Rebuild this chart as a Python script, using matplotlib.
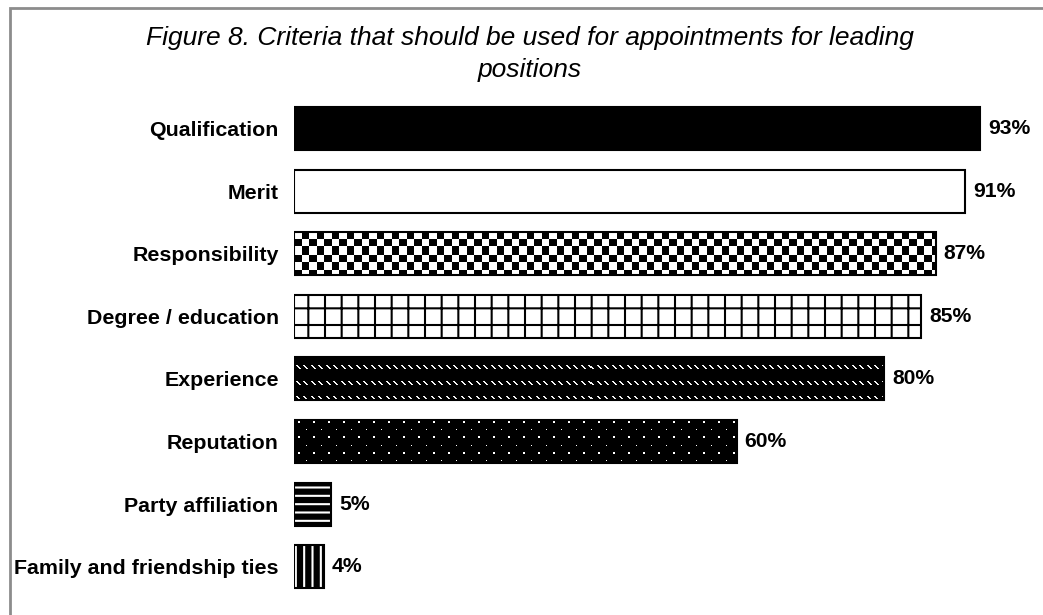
import numpy as np
import matplotlib
matplotlib.use("Agg")
import matplotlib.pyplot as plt
from matplotlib.patches import Rectangle

plt.rcParams["font.family"] = ["Liberation Sans", "DejaVu Sans"]

# Data
categories = ["Qualification", "Merit", "Responsibility", "Degree / education",
              "Experience", "Reputation", "Party affiliation",
              "Family and friendship ties"]
values = [93, 91, 87, 85, 80, 60, 5, 4]
value_labels = ["93%", "91%", "87%", "85%", "80%", "60%", "5%", "4%"]

# Fill per bar: (facecolor, hatch, hatch colour) or a texture name
styles = [
    ("black", None, None),
    ("white", None, None),
    ("checker", None, None),
    ("white", "+", "black"),
    ("diagdash", None, None),
    ("dots", None, None),
    ("black", "--", "white"),
    ("black", "||", "white"),
]

W, H, DPI = 1043, 615, 100
row = 62.6
px_per_pct = 686 / 93
bh = 0.69


def texture(kind, wpx, hpx):
    """Pixel texture (1 = white) used to fill the patterned bars."""
    yy, xx = np.indices((hpx, wpx))
    img = np.zeros((hpx, wpx))
    if kind == "checker":
        img = ((np.floor(xx / 7.5) + np.floor(yy / 7.5)) % 2 == 0).astype(float)
    elif kind == "dots":
        r = np.floor((yy - 2) / 7.5)
        on_row = ((yy - 2) % 7.5) < 1.5
        shift = (r % 2) * 7.5
        on_col = ((xx - 4 - shift) % 15) < 1.5
        img = (on_row & on_col).astype(float)
    elif kind == "diagdash":
        for y0 in (9, 24, 39):
            for k in range(4):
                yr = y0 + k
                if yr >= hpx:
                    continue
                for x0 in np.arange(2, wpx, 7.5):
                    xs = int(x0 + k)
                    img[yr, xs:min(xs + 2, wpx)] = 0.95
    return img


fig = plt.figure(figsize=(W / DPI, H / DPI), dpi=DPI)
fig.patch.set_facecolor("white")

# grey frame (right/bottom edges fall outside the picture)
fig.patches.append(Rectangle((10 / W, -0.1), 1.2, 1 - 8 / H + 0.1,
                             transform=fig.transFigure, fill=False,
                             ec="#8c8c8c", lw=2.0))

top_px = 128.5 - 0.5 * row
bot_px = 128.5 + 7.5 * row
x0_px = 294
ax = fig.add_axes([x0_px / W, 1 - bot_px / H, 100 * px_per_pct / W,
                   (bot_px - top_px) / H])
for s in ax.spines.values():
    s.set_visible(False)
ax.set_xticks([])

plt.rcParams["hatch.linewidth"] = 1.5
ypos = np.arange(len(categories))
for y, v, (fc, hatch, hc) in zip(ypos, values, styles):
    if fc in ("checker", "dots", "diagdash"):
        bar = ax.barh(y, v, height=bh, color="none", edgecolor="black",
                      lw=1.5, zorder=3)[0]
        wpx = int(round(v * px_per_pct))
        hpx = int(round(bh * row))
        im = ax.imshow(texture(fc, wpx, hpx), cmap="gray", vmin=0, vmax=1,
                       aspect="auto", interpolation="nearest",
                       extent=(0, v, y + bh / 2, y - bh / 2), zorder=1)
        im.set_clip_path(bar)
    elif hatch is None:
        ax.barh(y, v, height=bh, color=fc, edgecolor="black", lw=1.5, zorder=2)
    else:
        ax.barh(y, v, height=bh, color=fc, edgecolor=fc, lw=0, zorder=2)
        ax.barh(y, v, height=bh, color="none", edgecolor=hc, hatch=hatch,
                lw=0, zorder=3)
        ax.barh(y, v, height=bh, color="none", edgecolor="black", lw=1.5,
                zorder=4)
ax.set_xlim(0, 100)
ax.set_ylim(7.5, -0.5)

for y, v, lab in zip(ypos, values, value_labels):
    ax.text(v + 1.1, y, lab, ha="left", va="center", fontsize=15.2,
            fontweight="bold", color="black")

ax.set_yticks(ypos)
ax.set_yticklabels(categories, fontsize=15.4, fontweight="bold")
ax.tick_params(axis="y", length=0, pad=11)

fig.text(530 / W, 1 - 38 / H,
         "Figure 8. Criteria that should be used for appointments for leading",
         ha="center", va="center", fontsize=19, style="italic")
fig.text(530 / W, 1 - 70 / H, "positions",
         ha="center", va="center", fontsize=19, style="italic")

fig.savefig("out.png", dpi=DPI)
